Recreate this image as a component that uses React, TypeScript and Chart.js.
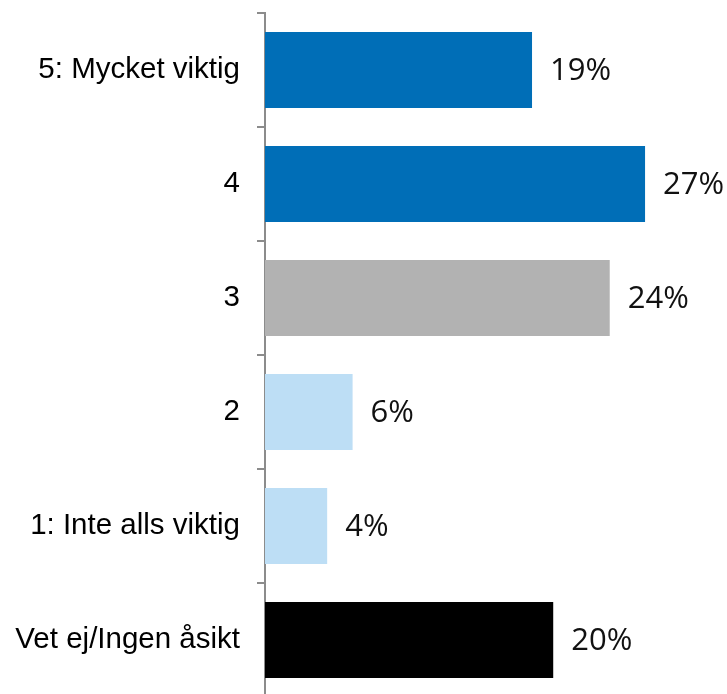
import React, { useEffect, useRef } from "react";
import { Chart, registerables } from "chart.js";

Chart.register(...registerables);

const categories = [
  "5: Mycket viktig",
  "4",
  "3",
  "2",
  "1: Inte alls viktig",
  "Vet ej/Ingen åsikt",
];
const values = [18.9, 26.9, 24.4, 6.2, 4.4, 20.4];
const barColors = ["#006EB7", "#006EB7", "#B2B2B2", "#BDDEF5", "#BDDEF5", "#000000"];

const valueLabels = {
  id: "valueLabels",
  afterDatasetsDraw(chart: any) {
    const ctx = chart.ctx;
    const meta = chart.getDatasetMeta(0);
    ctx.save();
    ctx.font = '31px "Open Sans"';
    ctx.fillStyle = "#111111";
    ctx.textAlign = "left";
    ctx.textBaseline = "middle";
    meta.data.forEach((bar: any, i: number) => {
      const v = chart.data.datasets[0].data[i] as number;
      ctx.fillText(Math.round(v) + "%", bar.x + 18, bar.y + 1);
    });
    ctx.restore();
  },
};

export default function App() {
  const ref = useRef<HTMLCanvasElement | null>(null);
  useEffect(() => {
    if (!ref.current) return;
    const chart = new Chart(ref.current, {
      type: "bar",
      data: {
        labels: categories,
        datasets: [
          {
            data: values,
            backgroundColor: barColors,
            barPercentage: 0.667,
            categoryPercentage: 1,
          },
        ],
      },
      options: {
        indexAxis: "y",
        responsive: false,
        animation: false,
        layout: { padding: { top: 13, bottom: 3, left: 0, right: 0 } },
        plugins: { legend: { display: false }, tooltip: { enabled: false } },
        scales: {
          x: { display: false, min: 0, max: 32.7 },
          y: {
            afterFit: (s: any) => {
              s.width = 265;
              s.paddingTop = 0;
              s.paddingBottom = 0;
            },
            grid: {
              drawOnChartArea: false,
              drawTicks: true,
              tickLength: 8,
              color: "#8C8C8C",
              lineWidth: 2,
              offset: true,
            },
            border: { display: true, color: "#8C8C8C", width: 2 },
            ticks: {
              color: "#000000",
              padding: 17,
              font: { family: '"Liberation Sans", Arial, sans-serif', size: 29.5 },
            },
          },
        },
      },
      plugins: [valueLabels],
    });
    return () => chart.destroy();
  }, []);
  return (
    <div
      style={{
        position: "fixed",
        left: 0,
        top: 0,
        width: 727,
        height: 694,
        overflow: "hidden",
        background: "#fff",
      }}
    >
      <canvas ref={ref} width={727} height={700} style={{ display: "block", width: 727, height: 700 }} />
    </div>
  );
}
